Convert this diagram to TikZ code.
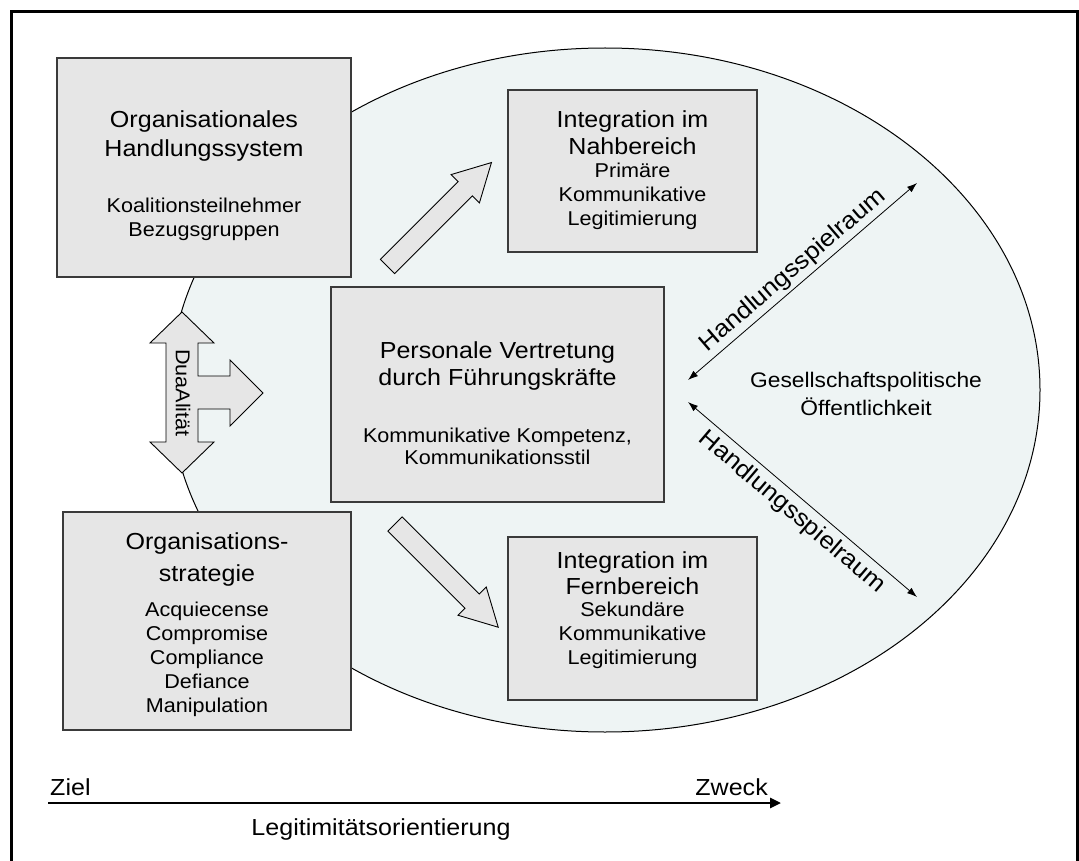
\documentclass[tikz,border=0pt]{standalone}
\usepackage{fontspec}
\setmainfont{Liberation Sans}[FakeStretch=1.08]
\usetikzlibrary{arrows.meta}

\definecolor{boxfill}{HTML}{E6E6E6}
\definecolor{boxline}{HTML}{3A3A3A}
\definecolor{fieldfill}{HTML}{EEF4F4}

\newcommand\titletxt{\fontsize{23.2}{29}\selectfont}
\newcommand\detailtxt{\fontsize{20}{24}\selectfont}
\newcommand\labeltxt{\fontsize{24}{28}\selectfont}

\begin{document}
\begin{tikzpicture}[x=1pt,y=-1pt,
  box/.style={draw=boxline, fill=boxfill, line width=1.3pt, inner sep=0pt},
  title/.style={align=center, font=\titletxt, inner sep=0pt},
  detail/.style={align=center, font=\detailtxt, inner sep=0pt},
  blockarrow/.style={draw=black, fill=boxfill, line width=0.9pt, line join=miter},
  span/.style={draw=black, line width=0.8pt,
    {Latex[length=10pt,width=7pt]}-{Latex[length=10pt,width=7pt]}},
  axis/.style={line width=2.6pt, -{Triangle[length=11pt,width=10pt]}},
]
\useasboundingbox (0,0) rectangle (1079,861);
\clip (0,0) rectangle (1079,861);
\fill[white] (0,0) rectangle (1079,861);
\draw[line width=3pt] (11.5,11.5) rectangle (1077.5,880);

% public sphere
\draw[fill=fieldfill, line width=1pt] (605,390) ellipse [x radius=435pt, y radius=342pt];
\node[align=center, font=\fontsize{21.1}{28}\selectfont, inner sep=0pt] (oeff) at (866,394)
  {Gesellschaftspolitische\\Öffentlichkeit};

% boxes
\node[box, minimum width=294pt, minimum height=219pt] (ohs) at (204,167.5) {};
\node[title] (ohsT) at (204,136) {Organisationales\\Handlungssystem};
\node[detail] (ohsD) at (204,219.5) {Koalitionsteilnehmer\\Bezugsgruppen};

\node[box, minimum width=249pt, minimum height=162pt] (nah) at (632.5,171) {};
\node[title, font=\fontsize{23.2}{27}\selectfont] (nahT) at (632.5,133) {Integration im\\Nahbereich};
\node[detail] (nahD) at (632.5,196) {Primäre\\Kommunikative\\Legitimierung};

\node[box, minimum width=333pt, minimum height=215pt] (pers) at (497.5,394.5) {};
\node[title, font=\fontsize{23.2}{28}\selectfont] (persT) at (497.5,366) {Personale Vertretung\\durch Führungskräfte};
\node[detail, font=\fontsize{20}{22}\selectfont] (persD) at (497.5,446) {Kommunikative Kompetenz,\\Kommunikationsstil};

\node[box, minimum width=288pt, minimum height=218pt] (strat) at (207,621) {};
\node[title, font=\fontsize{23.2}{32}\selectfont] (stratT) at (207,559) {Organisations-\\strategie};
\node[detail] (stratD) at (207,659) {Acquiecense\\Compromise\\Compliance\\Defiance\\Manipulation};

\node[box, minimum width=249pt, minimum height=163pt] (fern) at (632.5,618.5) {};
\node[title, font=\fontsize{23.2}{26}\selectfont] (fernT) at (632.5,573) {Integration im\\Fernbereich};
\node[detail] (fernD) at (632.5,635) {Sekundäre\\Kommunikative\\Legitimierung};

% block arrows towards near and far integration
\begin{scope}[shift={(387.5,266.5)}, rotate=45]
  \draw[blockarrow] (0,-10) -- (110,-10) -- (110,-20) -- (147,0) -- (110,20) -- (110,10) -- (0,10) -- cycle;
\end{scope}
\begin{scope}[shift={(395,524)}, rotate=-45]
  \draw[blockarrow] (0,-10) -- (109,-10) -- (109,-20) -- (146,0) -- (109,20) -- (109,10) -- (0,10) -- cycle;
\end{scope}

% duality arrow
\draw[blockarrow] (182,312) -- (214,343) -- (198,343) -- (198,376) -- (230,376) -- (230,360)
  -- (263,393) -- (230,426) -- (230,409) -- (198,409) -- (198,442) -- (214,442)
  -- (182,473) -- (150,442) -- (166,442) -- (166,343) -- (150,343) -- cycle;
\node[rotate=-90, font=\fontsize{20}{24}\selectfont, inner sep=0pt] (dual) at (183,393) {DuaAlität};

% scope of action
\coordinate (hu1) at (688,380);
\coordinate (hu2) at (917,183);
\coordinate (hl1) at (688,402);
\coordinate (hl2) at (917,597);
\draw[span] (hu1) -- node[midway, sloped, above=2pt, font=\labeltxt, inner sep=1pt] (spanU) {Handlungsspielraum} (hu2);
\draw[span] (hl1) -- node[midway, sloped, below=4pt, font=\labeltxt, inner sep=1pt] (spanL) {Handlungsspielraum} (hl2);

% legitimacy orientation axis
\coordinate (axL) at (48,803);
\coordinate (axR) at (781,803);
\draw[axis] (axL) -- (axR);
\node[anchor=base west, font=\titletxt, inner sep=0pt] (ziel) at (50,795) {Ziel};
\node[anchor=base east, font=\titletxt, inner sep=0pt] (zweck) at (768,795) {Zweck};
\node[font=\titletxt, inner sep=0pt] (legit) at (381,829) {Legitimitätsorientierung};
\end{tikzpicture}
\end{document}
